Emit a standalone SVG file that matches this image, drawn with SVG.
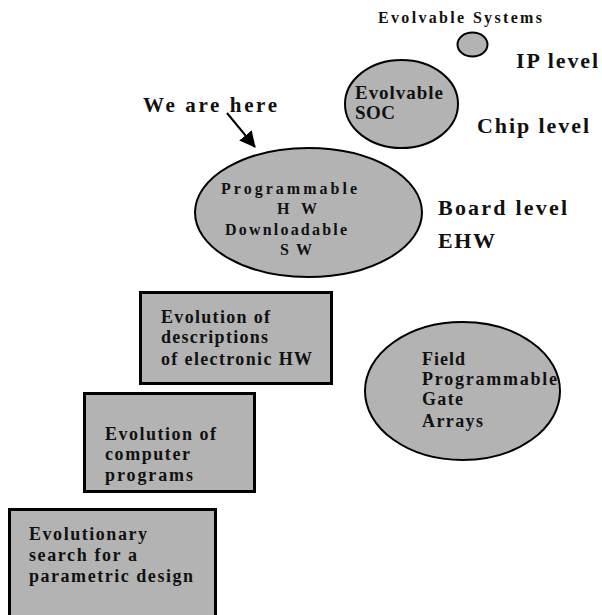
<svg xmlns="http://www.w3.org/2000/svg" width="602" height="615" viewBox="0 0 602 615">
<style>
text{font-family:"Liberation Serif","Times New Roman",serif;font-weight:bold;fill:#111;}
.s{font-size:18px;}
.b{font-size:16px;}
.m{font-size:19px;}
.l{font-size:22px;}
.w{font-size:21px;}
.sm{font-size:16px;}
.ell{fill:#b3b3b3;stroke:#000;stroke-width:2;}
.box{fill:#b3b3b3;stroke:#000;stroke-width:3;}
</style>
<defs>
<marker id="ah" markerWidth="16" markerHeight="16" refX="15" refY="8" orient="auto" markerUnits="userSpaceOnUse" viewBox="0 0 16 16">
<path d="M0,0 L16,8 L0,16 z" fill="#000"/>
</marker>
</defs>
<rect width="602" height="615" fill="#fff"/>
<g id="title"><text class="sm" x="378" y="23" textLength="164" lengthAdjust="spacing">Evolvable Systems</text></g>
<g id="ip-node"><ellipse class="ell" cx="472.5" cy="44.5" rx="15" ry="12"/></g>
<g id="ip-label"><text class="l" x="516" y="68" textLength="82" lengthAdjust="spacing">IP level</text></g>
<g id="soc-node"><ellipse class="ell" cx="401.5" cy="104" rx="56.5" ry="44"/>
<text class="m" x="355" y="99" textLength="88" lengthAdjust="spacing">Evolvable</text>
<text class="m" x="355" y="119" textLength="40" lengthAdjust="spacing">SOC</text></g>
<g id="chip-label"><text class="l" x="477" y="133" textLength="112" lengthAdjust="spacing">Chip level</text></g>
<g id="here-label"><text class="w" x="143" y="112" textLength="134" lengthAdjust="spacing">We are here</text></g>
<g id="board-node"><ellipse class="ell" cx="308.5" cy="212.5" rx="113.5" ry="64.5"/>
<text class="b" x="221" y="194" textLength="136" lengthAdjust="spacing">Programmable</text>
<text class="b" x="277" y="214" textLength="40" lengthAdjust="spacing">HW</text>
<text class="b" x="225" y="235" textLength="122" lengthAdjust="spacing">Downloadable</text>
<text class="b" x="280" y="255" textLength="32" lengthAdjust="spacing">SW</text></g>
<g id="board-label"><text class="l" x="438" y="215" textLength="129" lengthAdjust="spacing">Board level</text>
<text class="l" x="438" y="248" textLength="57" lengthAdjust="spacing">EHW</text></g>
<g id="hw-desc"><rect class="box" x="140.5" y="292.5" width="191" height="91"/>
<text class="s" x="161" y="323" textLength="109" lengthAdjust="spacing">Evolution of</text>
<text class="s" x="161" y="343" textLength="107" lengthAdjust="spacing">descriptions</text>
<text class="s" x="161" y="365" textLength="151" lengthAdjust="spacing">of electronic HW</text></g>
<g id="fpga-node"><ellipse class="ell" cx="462.5" cy="391" rx="97.5" ry="69"/>
<text class="s" x="422" y="365" textLength="43" lengthAdjust="spacing">Field</text>
<text class="s" x="422" y="385" textLength="135" lengthAdjust="spacing">Programmable</text>
<text class="s" x="422" y="405" textLength="41" lengthAdjust="spacing">Gate</text>
<text class="s" x="422" y="427" textLength="61" lengthAdjust="spacing">Arrays</text></g>
<g id="programs"><rect class="box" x="84.5" y="393.5" width="170" height="98"/>
<text class="s" x="105" y="440" textLength="111" lengthAdjust="spacing">Evolution of</text>
<text class="s" x="105" y="460" textLength="85" lengthAdjust="spacing">computer</text>
<text class="s" x="105" y="481" textLength="88" lengthAdjust="spacing">programs</text></g>
<g id="parametric"><rect class="box" x="9.5" y="509.5" width="206" height="120"/>
<text class="s" x="29" y="540" textLength="118" lengthAdjust="spacing">Evolutionary</text>
<text class="s" x="29" y="561" textLength="108" lengthAdjust="spacing">search for a</text>
<text class="s" x="29" y="582" textLength="164" lengthAdjust="spacing">parametric design</text></g>
<g id="connectors"><line x1="227" y1="113" x2="255" y2="147" stroke="#000" stroke-width="2" marker-end="url(#ah)"/></g>
</svg>
